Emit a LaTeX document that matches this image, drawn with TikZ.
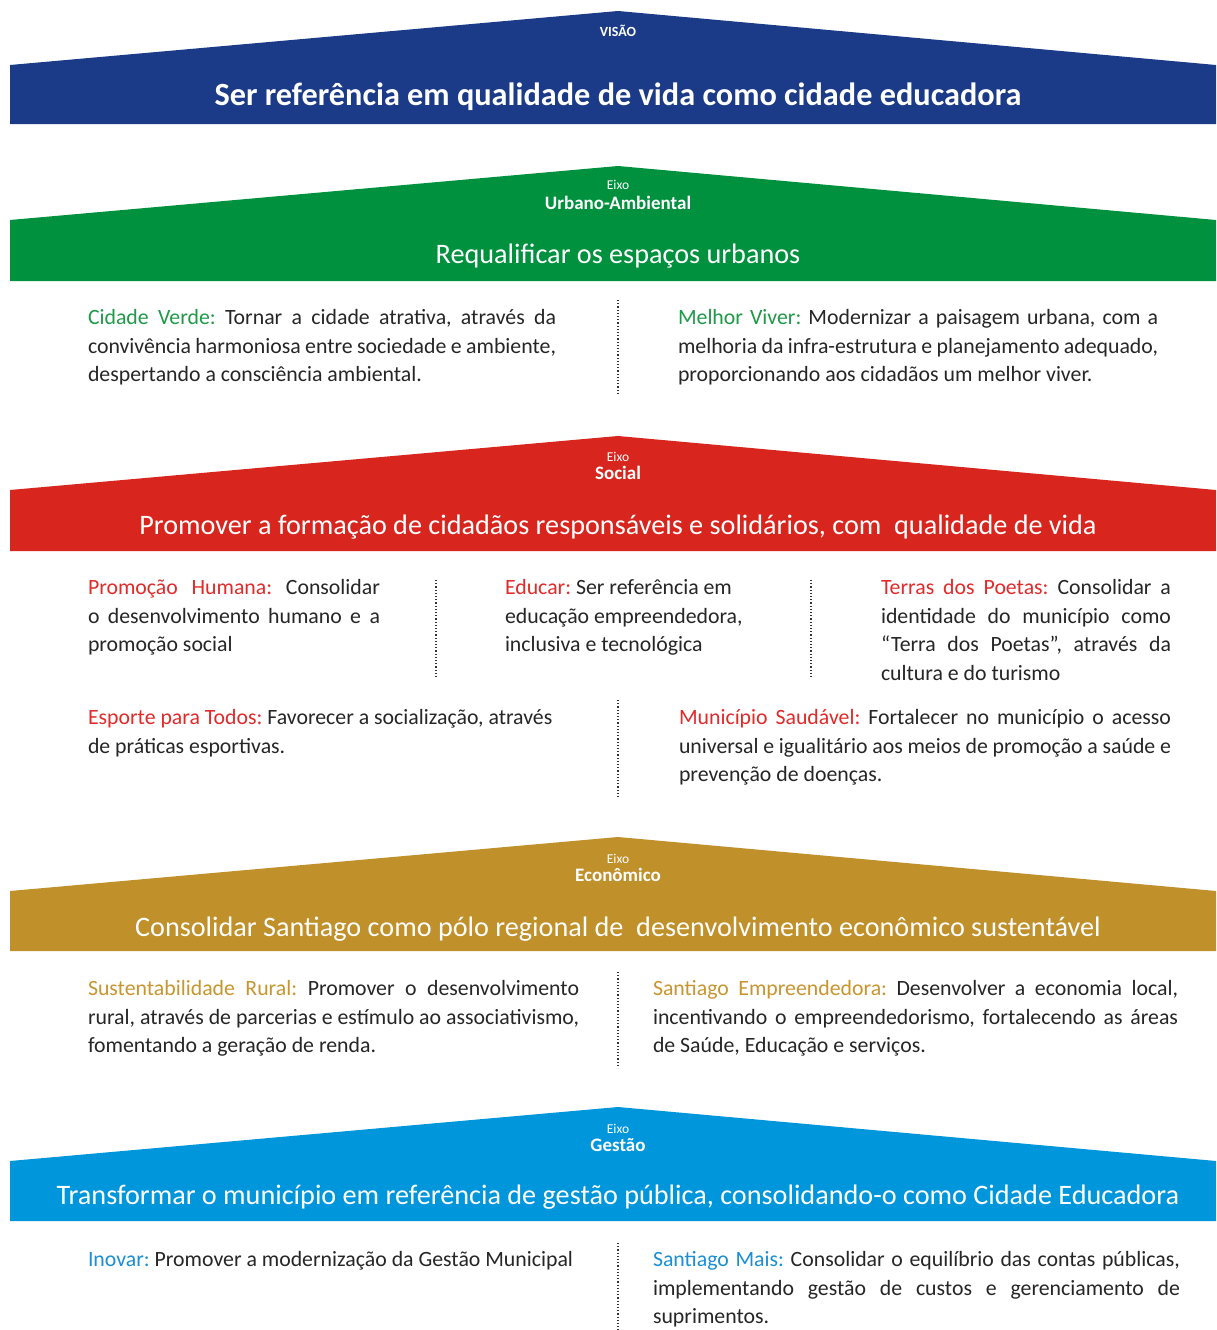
\documentclass[tikz,border=0pt]{standalone}
\usepackage{fontspec}
\setmainfont{Carlito}
\frenchspacing

\definecolor{visaoblue}{HTML}{1B3A87}
\definecolor{urbgreen}{HTML}{00913F}
\definecolor{socred}{HTML}{D8261E}
\definecolor{ecogold}{HTML}{C0902B}
\definecolor{gesblue}{HTML}{0096DB}
\definecolor{hdgreen}{HTML}{1F9A48}
\definecolor{hdred}{HTML}{E32A2A}
\definecolor{hdgold}{HTML}{C8952F}
\definecolor{hdblue}{HTML}{1A8FD5}
\definecolor{bodytext}{HTML}{262626}

% a justified line of fixed width
\newcommand\jl[2]{\makebox[#1][s]{#2}}

% roof-shaped banner: peak height #1, bottom edge #2, colour #3
\newcommand\roofbanner[3]{%
  \fill[#3] (10,#2) -- (10,#1+54) -- (618,#1) -- (1216,#1+54) -- (1216,#2) -- cycle;}

\begin{document}
\begin{tikzpicture}[x=1pt,y=-1pt,
  every node/.style={inner sep=0pt, outer sep=0pt},
  eixo/.style={anchor=base, text=white, font=\fontsize{13.5}{15}\selectfont},
  axisname/.style={anchor=base, text=white, font=\bfseries\fontsize{19}{22}\selectfont},
  title/.style={anchor=base, text=white, font=\fontsize{28.2}{32}\selectfont},
  para/.style={anchor=north west, align=left, text=bodytext,
    font=\fontsize{21.8}{28.5}\selectfont},
  sep/.style={dotted, line width=1.2pt, black!80}]

\useasboundingbox (0,0) rectangle (1216,1330);
\fill[white] (0,0) rectangle (1216,1330);

% ---------------- Visão ----------------
\roofbanner{11}{124}{visaoblue}
\node[eixo, font=\bfseries\fontsize{14}{16}\selectfont] (visao) at (618,37) {VISÃO};
\node[title, font=\bfseries\fontsize{32.3}{36}\selectfont] (visaotxt) at (618,105)
  {Ser referência em qualidade de vida como cidade educadora};

% ---------------- Eixo Urbano-Ambiental ----------------
\roofbanner{166}{281}{urbgreen}
\node[eixo] (e1) at (618,189) {Eixo};
\node[axisname] (urb) at (618,209) {Urbano-Ambiental};
\node[title] (urbtxt) at (618,263) {Requalificar os espaços urbanos};

\node[para] (verde) at (88,305) {\strut\jl{468pt}{\textcolor{hdgreen}{Cidade Verde:} Tornar a cidade atrativa, através da}\\
  \jl{468pt}{convivência harmoniosa entre sociedade e ambiente,}\\
  despertando a consciência ambiental.};
\node[para] (viver) at (678,305) {\strut\jl{480pt}{\textcolor{hdgreen}{Melhor Viver:} Modernizar a paisagem urbana, com a}\\
  \jl{480pt}{melhoria da infra-estrutura e planejamento adequado,}\\
  proporcionando aos cidadãos um melhor viver.};
\coordinate (s1a) at (618,300); \coordinate (s1b) at (618,395);
\draw[sep] (s1a) -- (s1b);

% ---------------- Eixo Social ----------------
\roofbanner{436}{551}{socred}
\node[eixo] (e2) at (618,461) {Eixo};
\node[axisname] (soc) at (618,479) {Social};
\node[title] (soctxt) at (618,534)
  {Promover a formação de cidadãos responsáveis e solidários, com \ qualidade de vida};

\node[para] (humana) at (88,575) {\strut\jl{292pt}{\textcolor{hdred}{Promoção Humana:} Consolidar}\\
  \jl{292pt}{o desenvolvimento humano e a}\\
  promoção social};
\node[para] (educar) at (505,575) {\strut\textcolor{hdred}{Educar:} Ser referência em\\
  educação empreendedora,\\
  inclusiva e tecnológica};
\node[para] (poetas) at (881,575) {\strut\jl{290pt}{\textcolor{hdred}{Terras dos Poetas:} Consolidar a}\\
  \jl{290pt}{identidade do município como}\\
  \jl{290pt}{“Terra dos Poetas”, através da}\\
  cultura e do turismo};
\coordinate (s2a) at (436,580); \coordinate (s2b) at (436,677);
\coordinate (s3a) at (811,580); \coordinate (s3b) at (811,677);
\draw[sep] (s2a) -- (s2b);
\draw[sep] (s3a) -- (s3b);

\node[para] (esporte) at (88,705) {\strut\textcolor{hdred}{Esporte para Todos:} Favorecer a socialização, através\\
  de práticas esportivas.};
\node[para] (saudavel) at (679,705) {\strut\jl{492pt}{\textcolor{hdred}{Município Saudável:} Fortalecer no município o acesso}\\
  \jl{492pt}{universal e igualitário aos meios de promoção a saúde e}\\
  prevenção de doenças.};
\coordinate (s4a) at (618,700); \coordinate (s4b) at (618,797);
\draw[sep] (s4a) -- (s4b);

% ---------------- Eixo Econômico ----------------
\roofbanner{837}{951}{ecogold}
\node[eixo] (e3) at (618,863) {Eixo};
\node[axisname] (eco) at (618,881) {Econômico};
\node[title] (ecotxt) at (618,936)
  {Consolidar Santiago como pólo regional de \ desenvolvimento econômico sustentável};

\node[para] (rural) at (88,976) {\strut\jl{491pt}{\textcolor{hdgold}{Sustentabilidade Rural:} Promover o desenvolvimento}\\
  \jl{491pt}{rural, através de parcerias e estímulo ao associativismo,}\\
  fomentando a geração de renda.};
\node[para] (empreend) at (653,976) {\strut\jl{525pt}{\textcolor{hdgold}{Santiago Empreendedora:} Desenvolver a economia local,}\\
  \jl{525pt}{incentivando o empreendedorismo, fortalecendo as áreas}\\
  de Saúde, Educação e serviços.};
\coordinate (s5a) at (618,972); \coordinate (s5b) at (618,1068);
\draw[sep] (s5a) -- (s5b);

% ---------------- Eixo Gestão ----------------
\roofbanner{1107}{1221}{gesblue}
\node[eixo] (e4) at (618,1133) {Eixo};
\node[axisname] (ges) at (618,1151) {Gestão};
\node[title] (gestxt) at (618,1204)
  {Transformar o município em referência de gestão pública, consolidando-o como Cidade Educadora};

\node[para] (inovar) at (88,1247) {\strut\textcolor{hdblue}{Inovar:} Promover a modernização da Gestão Municipal};
\node[para] (mais) at (653,1247) {\strut\jl{527pt}{\textcolor{hdblue}{Santiago Mais:} Consolidar o equilíbrio das contas públicas,}\\
  \jl{527pt}{implementando gestão de custos e gerenciamento de}\\
  suprimentos.};
\coordinate (s6a) at (618,1243); \coordinate (s6b) at (618,1330);
\draw[sep] (s6a) -- (s6b);

\end{tikzpicture}
\end{document}
